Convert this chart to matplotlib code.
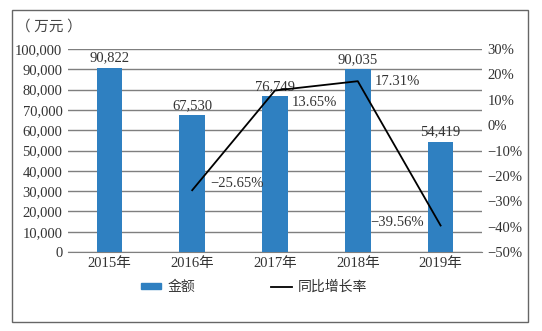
import matplotlib.pyplot as plt
from matplotlib.patches import Rectangle
from matplotlib.lines import Line2D

plt.rcParams['font.family'] = ['Liberation Serif', 'Noto Sans CJK SC']

years = ['2015年', '2016年', '2017年', '2018年', '2019年']
amount = [90822, 67530, 76749, 90035, 54419]
growth = [None, -25.65, 13.65, 17.31, -39.56]
amount_labels = ['90,822', '67,530', '76,749', '90,035', '54,419']
growth_labels = ['', '−25.65%', '13.65%', '17.31%', '−39.56%']

bar_color = '#2F80C1'
grid_color = '#7f7f7f'

fig = plt.figure(figsize=(5.42, 3.31), dpi=100)
fig.patches.append(Rectangle((12 / 542, 1 - 322 / 331), 516 / 542, 312 / 331,
                             transform=fig.transFigure, fill=False,
                             edgecolor='#666666', lw=1.0))

ax = fig.add_axes([68 / 542, 1 - 252 / 331, 414 / 542, 203 / 331])
x = list(range(len(years)))
ax.bar(x, amount, width=0.31, color=bar_color, zorder=3)
ax.set_xlim(-0.5, 4.5)
ax.set_ylim(0, 100000)
ax.set_yticks(range(0, 100001, 10000))
ax.set_yticklabels(['0'] + [f'{v:,}' for v in range(10000, 100001, 10000)])
ax.set_xticks(x)
ax.set_xticklabels(years)
ax.grid(axis='y', color=grid_color, lw=1.0, zorder=0)
for s in ['top', 'left', 'right']:
    ax.spines[s].set_visible(False)
ax.spines['bottom'].set_color(grid_color)
ax.tick_params(axis='both', length=0, labelsize=10.5, colors='#333333')
ax.tick_params(axis='y', pad=4)
for i, v in enumerate(amount):
    ax.text(i, v + 1500, amount_labels[i], ha='center', va='bottom',
            fontsize=10.5, color='#333333', zorder=5)

ax2 = ax.twinx()
gx = [i for i, g in enumerate(growth) if g is not None]
gy = [g for g in growth if g is not None]
ax2.plot(gx, gy, color='black', lw=1.3, zorder=4)
ax2.set_ylim(-50, 30)
ax2.set_yticks(range(-50, 31, 10))
ax2.set_yticklabels([(f'−{-v}%' if v < 0 else f'{v}%') for v in range(-50, 31, 10)])
for s in ['top', 'left', 'right', 'bottom']:
    ax2.spines[s].set_visible(False)
ax2.tick_params(axis='y', length=0, labelsize=10.5, colors='#333333', pad=4)

# label offsets in points relative to each line point
offsets = {1: (13, 5, 'left'), 2: (12, -9, 'left'),
           3: (12, 0, 'left'), 4: (-12, 2, 'right')}
for i, (dx, dy, ha) in offsets.items():
    ax2.annotate(growth_labels[i], (i, growth[i]), xytext=(dx, dy),
                 textcoords='offset points', ha=ha, va='center',
                 fontsize=10.5, color='#333333', zorder=6)

fig.text(16 / 542, 1 - 27 / 331, '（ 万元 ）', fontsize=10.5, color='#444444',
         va='center', ha='left')

handles = [Rectangle((0, 0), 1, 1, color=bar_color),
           Line2D([], [], color='black', lw=1.3)]
fig.legend(handles, ['金额', '同比增长率'], loc='center', ncol=2,
           bbox_to_anchor=(254 / 542, 1 - 287 / 331), frameon=False,
           fontsize=10, handlelength=1.45, handleheight=0.3,
           handletextpad=0.45, columnspacing=5.5, labelcolor='#333333')

fig.savefig('out.png', dpi=100)
